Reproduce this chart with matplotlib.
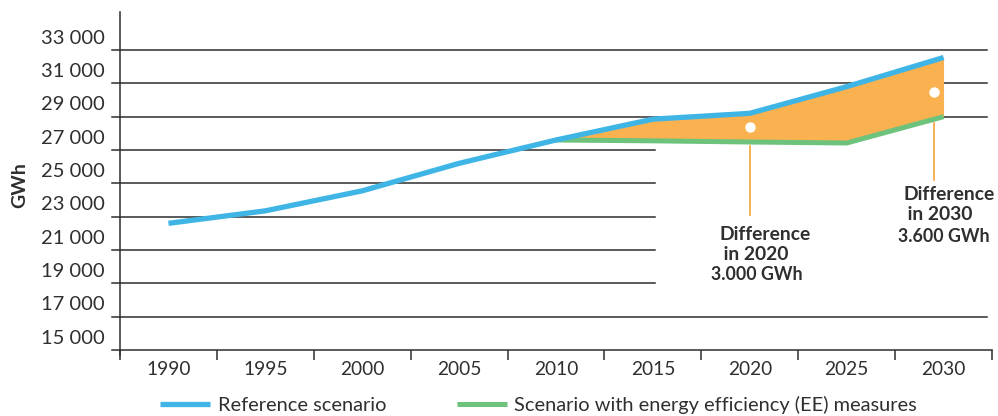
import matplotlib
matplotlib.use("Agg")
import matplotlib.pyplot as plt
import matplotlib.transforms as mtransforms

plt.rcParams['font.family'] = ['Lato', 'DejaVu Sans']

years = ['1990', '1995', '2000', '2005', '2010', '2015', '2020', '2025', '2030']
reference = [22600, 23350, 24550, 26200, 27600, 28850, 29200, 30800, 32550]
ee_years_idx = [4, 5, 6, 7, 8]
ee_scenario = [27600, 27550, 27480, 27420, 29000]
ytick_vals = [15000, 17000, 19000, 21000, 23000, 25000, 27000, 29000, 31000, 33000]
ytick_labels = ['15 000', '17 000', '19 000', '21 000', '23 000', '25 000',
                '27 000', '29 000', '31 000', '33 000']
long_grid = [17000, 29000, 31000, 33000]
short_grid = [19000, 21000, 23000, 25000, 27000]

diff_x = [6, 7.9]
diff_dot = [28380, 30480]
diff_leader_top = [27250, 28650]
diff_leader_bottom = [23100, 25200]
diff_text = [["Difference", " in 2020", "3.000 GWh"],
             ["Difference", " in 2030", "3.600 GWh"]]

BLUE = '#3fb5e6'
GREEN = '#6dc27c'
ORANGE = '#f9b24f'
LEADER = '#f7ab45'
TXT = '#2f2f2f'
GRID = '#2e2e2e'

fig = plt.figure(figsize=(9.98, 4.16), dpi=100)
W, H = 998, 416
ax_l, ax_r, ax_b, ax_t = 120, 992, 350, 12
ax = fig.add_axes([ax_l / W, (H - ax_b) / H, (ax_r - ax_l) / W, (ax_b - ax_t) / H])
ax.set_xlim(-0.5, 8.5)
ax.set_ylim(15000, 15000 + (ax_b - ax_t) * 60)
for s in ax.spines.values():
    s.set_visible(False)

ytr = ax.get_yaxis_transform()
x0 = -8 / (ax_r - ax_l)
for v in long_grid:
    ax.plot([x0, 0.994], [v, v], transform=ytr, color=GRID, lw=1.1, clip_on=False, zorder=1)
for v in short_grid:
    ax.plot([x0, 0.6135], [v, v], transform=ytr, color=GRID, lw=1.1, clip_on=False, zorder=1)
ax.plot([x0, 1.0], [15000, 15000], transform=ytr, color=GRID, lw=1.1, clip_on=False, zorder=1)
ax.plot([0, 0], [-5 / (ax_b - ax_t), 1], transform=ax.transAxes, color=GRID, lw=1.1,
        clip_on=False, zorder=1)

# x ticks
xi = list(range(len(years)))
ax.set_xticks(xi)
ax.set_xticklabels(years, fontsize=13.8, color=TXT)
ax.set_xticks([i - 0.5 for i in range(len(years) + 1)], minor=True)
ax.tick_params(axis='x', which='major', length=0, pad=8)
ax.tick_params(axis='x', which='minor', length=7, width=1.1, color=GRID, direction='out')
ax.set_yticks([])

ylab_tr = mtransforms.offset_copy(ytr, fig=fig, x=-15, y=12, units='dots')
for v, lab in zip(ytick_vals, ytick_labels):
    ax.text(0, v, lab, transform=ylab_tr, ha='right', va='center', fontsize=14.5, color=TXT)

fig.text(20 / W, (H - 185) / H, 'GWh', rotation=90, ha='center', va='center',
         fontsize=14, fontweight='bold', color=TXT)

# fill and lines
ref_sub = [reference[i] for i in ee_years_idx]
ax.fill_between(ee_years_idx, ee_scenario, ref_sub, color=ORANGE, lw=0, zorder=2)
ax.plot(xi, reference, color=BLUE, lw=3.8, solid_capstyle='butt', zorder=4,
        label='Reference scenario')
ax.plot(ee_years_idx, ee_scenario, color=GREEN, lw=3.6, solid_capstyle='butt', zorder=3,
        label='Scenario with energy efficiency (EE) measures')

ax.plot(diff_x, diff_dot, 'o', color='white', ms=7.5, mew=0, zorder=5)
for x, t, b in zip(diff_x, diff_leader_top, diff_leader_bottom):
    ax.plot([x, x], [t, b], color=LEADER, lw=1.3, zorder=3)

offsets = [[(-30, -20), (-31, -40), (-39, -60)],
           [(-30, -15), (-31, -35), (-36, -56)]]
sizes = [13.9, 13.9, 12.8]
for x, b, lines, offs in zip(diff_x, diff_leader_bottom, diff_text, offsets):
    for line, (dx, dy), fs in zip(lines, offs, sizes):
        ax.annotate(line, (x, b), xytext=(dx, dy), textcoords='offset pixels',
                    ha='left', va='center', fontsize=fs, fontweight='bold', color=TXT)

fig.legend(loc='center left', bbox_to_anchor=(160 / W, (H - 405) / H), ncol=2,
           frameon=False, fontsize=14.4, handlelength=2.5, handletextpad=0.4,
           columnspacing=3.5, borderpad=0, borderaxespad=0, labelcolor=TXT)

fig.savefig('out.png', dpi=100)
